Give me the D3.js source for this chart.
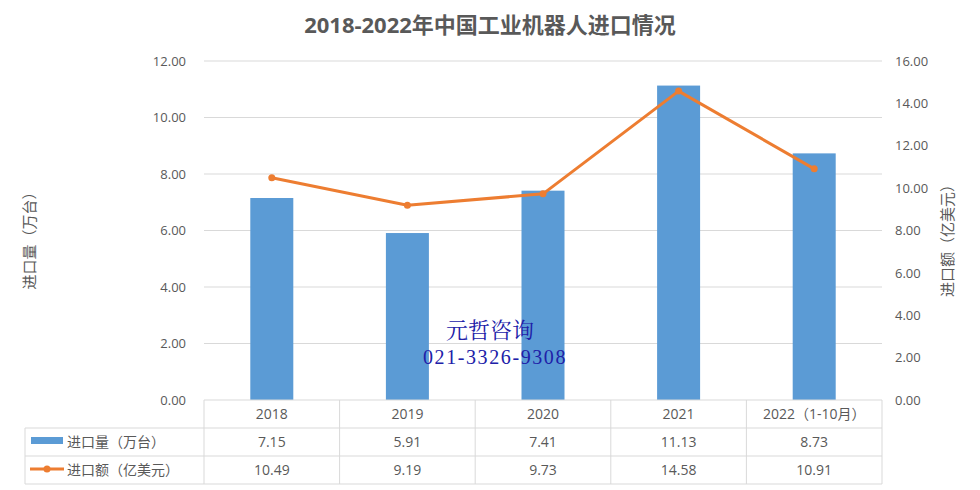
<!DOCTYPE html>
<html><head><meta charset="utf-8">
<script src="https://cdn.jsdelivr.net/npm/d3@7"></script>
<style>body{margin:0;background:#fff;}svg{display:block;}</style>
</head><body>
<script>
const categories = ["2018","2019","2020","2021","2022（1-10月）"];
const volume = [7.15,5.91,7.41,11.13,8.73];
const amount = [10.49,9.19,9.73,14.58,10.91];
const leftTicks = [0,2,4,6,8,10,12];
const rightTicks = [0,2,4,6,8,10,12,14,16];
const seriesNames = ["进口量（万台）","进口额（亿美元）"];
const title = "2018-2022年中国工业机器人进口情况";

const W=980,H=490;
const font = "'Open Sans','Noto Sans CJK SC',sans-serif";
const svg = d3.select("body").append("svg").attr("width",W).attr("height",H);
const x0=204,x1=882,yTop=61,yBot=400;
const x = d3.scaleBand().domain(categories).range([x0,x1]);
const yL = d3.scaleLinear().domain([0,12]).range([yBot,yTop]);
const yR = d3.scaleLinear().domain([0,16]).range([yBot,yTop]);
const grey="#595959", grid="#d9d9d9";

svg.append("text").attr("x",490).attr("y",33).attr("text-anchor","middle")
  .attr("font-family",font).attr("font-weight","bold").attr("font-size",22).attr("fill",grey).text(title);

// gridlines
svg.append("g").selectAll("line").data(leftTicks.filter(d=>d>0)).join("line")
  .attr("x1",x0).attr("x2",x1).attr("y1",d=>yL(d)).attr("y2",d=>yL(d)).attr("stroke",grid);

// axes
const gl = svg.append("g").attr("transform",`translate(${x0},0)`)
  .call(d3.axisLeft(yL).tickValues(leftTicks).tickFormat(d3.format(".2f")).tickSize(0).tickPadding(18));
gl.select(".domain").remove();
gl.selectAll("text").attr("font-family",font).attr("font-size",13).attr("fill",grey);
const gr = svg.append("g").attr("transform",`translate(${x1},0)`)
  .call(d3.axisRight(yR).tickValues(rightTicks).tickFormat(d3.format(".2f")).tickSize(0).tickPadding(13));
gr.select(".domain").remove();
gr.selectAll("text").attr("font-family",font).attr("font-size",13).attr("fill",grey);

// axis titles
svg.append("text").attr("transform",`translate(35,237) rotate(-90)`).attr("text-anchor","middle")
  .attr("font-family",font).attr("font-size",15).attr("fill",grey).text(seriesNames[0]);
svg.append("text").attr("transform",`translate(953,237) rotate(-90)`).attr("text-anchor","middle")
  .attr("font-family",font).attr("font-size",15).attr("fill",grey).text(seriesNames[1]);

// bars
const bw=43;
svg.append("g").selectAll("rect").data(volume).join("rect")
  .attr("x",(d,i)=>x(categories[i])+x.bandwidth()/2-bw/2).attr("width",bw)
  .attr("y",d=>yL(d)).attr("height",d=>yBot-yL(d)).attr("fill","#5B9BD5");

// line
const pts = amount.map((d,i)=>[x(categories[i])+x.bandwidth()/2, yR(d)]);
svg.append("path").attr("d",d3.line()(pts)).attr("fill","none").attr("stroke","#ED7D31").attr("stroke-width",3).attr("stroke-linejoin","round");
svg.append("g").selectAll("circle").data(pts).join("circle").attr("cx",d=>d[0]).attr("cy",d=>d[1]).attr("r",3.5).attr("fill","#ED7D31");

// watermark
svg.append("text").attr("x",490).attr("y",338).attr("text-anchor","middle").attr("font-family","'Noto Serif CJK SC','Noto Sans CJK SC',serif")
  .attr("font-size",22).attr("fill","#2020a8").text("元哲咨询");
svg.append("text").attr("x",495).attr("y",364).attr("text-anchor","middle").attr("font-family","'Liberation Serif',serif")
  .attr("font-size",20).attr("letter-spacing",1.6).attr("fill","#2020a8").text("021-3326-9308");

// data table
const tg = svg.append("g");
tg.append("line").attr("x1",x0).attr("x2",x1).attr("y1",400).attr("y2",400).attr("stroke",grid);
[428,456,484].forEach(y=>tg.append("line").attr("x1",25).attr("x2",x1).attr("y1",y).attr("y2",y).attr("stroke",grid));
tg.append("line").attr("x1",25).attr("x2",25).attr("y1",428).attr("y2",484).attr("stroke",grid);
categories.concat(["_end"]).forEach((c,i)=>{
  const xx = i<categories.length? x(c) : x1;
  tg.append("line").attr("x1",xx).attr("x2",xx).attr("y1",400).attr("y2",484).attr("stroke",grid);
});
const cellText=(xx,y,t,anchor)=>tg.append("text").attr("x",xx).attr("y",y).attr("text-anchor",anchor||"middle")
  .attr("font-family",font).attr("font-size",14).attr("fill",grey).text(t);
categories.forEach((c,i)=>{
  const cx = x(c)+x.bandwidth()/2;
  cellText(cx,419,c);
  cellText(cx,447,d3.format(".2f")(volume[i]));
  cellText(cx,475,d3.format(".2f")(amount[i]));
});
tg.append("rect").attr("x",31).attr("y",437).attr("width",32).attr("height",7).attr("fill","#5B9BD5");
tg.append("line").attr("x1",30).attr("x2",64).attr("y1",469).attr("y2",469).attr("stroke","#ED7D31").attr("stroke-width",3);
tg.append("circle").attr("cx",47).attr("cy",469).attr("r",3.5).attr("fill","#ED7D31");
cellText(67,447,seriesNames[0],"start");
cellText(67,475,seriesNames[1],"start");
</script>
</body></html>
